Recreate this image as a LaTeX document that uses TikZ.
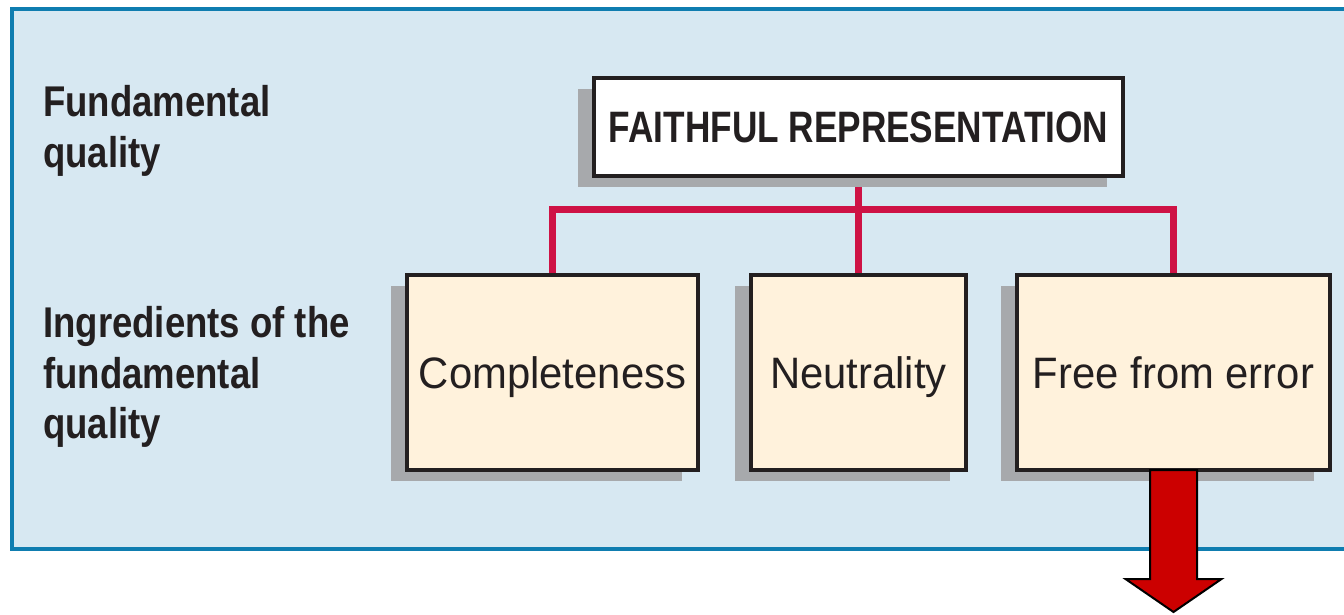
\documentclass[tikz,border=0pt]{standalone}
\usepackage{fontspec}
\setmainfont{Liberation Sans}
\newfontfamily\headfont{Liberation Sans}[FakeStretch=0.85]
\newfontfamily\titlefont{Liberation Sans}[FakeStretch=0.8]
\newfontfamily\boxfont{Liberation Sans}[FakeStretch=0.95]
\usetikzlibrary{shadows}
\usetikzlibrary{positioning}
\definecolor{panelblue}{HTML}{D7E8F2}
\definecolor{paneledge}{HTML}{0F7DB0}
\definecolor{boxcream}{HTML}{FFF2DC}
\definecolor{boxshadow}{HTML}{A7A9AC}
\definecolor{inkdark}{HTML}{231F20}
\definecolor{linkred}{HTML}{CE1245}
\definecolor{arrowred}{HTML}{CC0000}
\pgfdeclarelayer{back}
\pgfdeclarelayer{mid}
\pgfsetlayers{back,mid,main}

\begin{document}
\begin{tikzpicture}[x=1pt,y=-1pt,
  qualbox/.style={draw=inkdark,line width=3.5pt,inner sep=0pt,outer sep=0pt,text=inkdark,
    text height=31.5pt,text depth=0pt,
    drop shadow={shadow xshift=-16pt,shadow yshift=-11pt,fill=boxshadow,opacity=1}},
  ingbox/.style={qualbox,fill=boxcream,minimum height=195pt,font=\boxfont\fontsize{44}{50}\selectfont},
  sidelabel/.style={anchor=base west,align=left,inner sep=0pt,text=inkdark,
    font=\headfont\bfseries\fontsize{43}{50.5}\selectfont},
  link/.style={draw=linkred,line width=7pt},
  bigarrow/.style={draw=black,line width=2pt,fill=arrowred,line join=miter}]
  \useasboundingbox (0,0) rectangle (1344,614);
  \clip (0,0) rectangle (1344,614);

  \node[sidelabel] (fundlabel) at (43,167) {Fundamental\\quality};
  \node[sidelabel] (inglabel) at (43,438.5) {Ingredients of the\\fundamental\\quality};

  \coordinate (bar) at (858.5,209);
  \coordinate (tip) at (1173.5,612);

  \node[qualbox,fill=white,minimum width=529pt,minimum height=98pt,
    font=\titlefont\bfseries\fontsize{44}{50}\selectfont] (faithful) at (858.5,127) {FAITHFUL REPRESENTATION};

  \node[ingbox,minimum width=215pt,below=99pt of faithful] (neutral) {Neutrality};
  \node[ingbox,minimum width=291pt,left=53pt of neutral] (complete) {Completeness};
  \node[ingbox,minimum width=313pt,right=51pt of neutral] (freeerr) {Free from error};

  \begin{pgfonlayer}{back}
    \draw[fill=panelblue,draw=paneledge,line width=4pt] (11.5,9) rectangle (1400,548.5);
  \end{pgfonlayer}
  \begin{pgfonlayer}{mid}
    \draw[link] (faithful.south) -- (neutral.north);
    \draw[link] (complete.north) |- (bar) -| (freeerr.north);
  \end{pgfonlayer}

  \draw[bigarrow] ([xshift=-23.5pt]freeerr.south) |- ([xshift=-48pt,yshift=33pt]tip) -- (tip)
    -- ([xshift=48pt,yshift=33pt]tip) -| ([xshift=23.5pt]freeerr.south) -- cycle;
\end{tikzpicture}
\end{document}
